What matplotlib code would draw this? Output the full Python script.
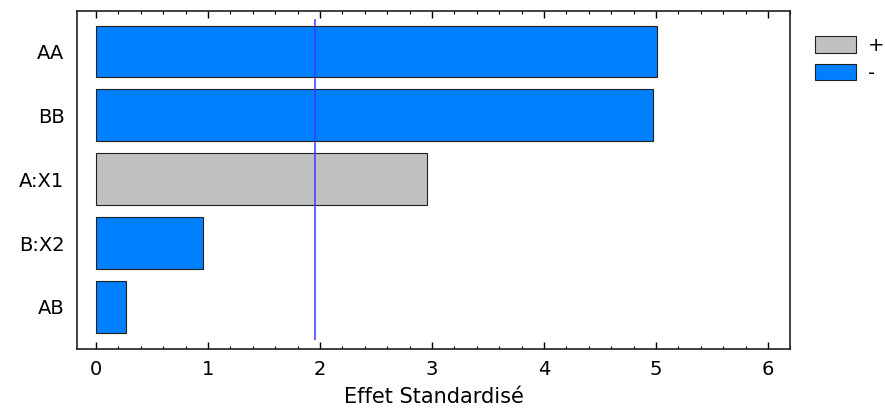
import matplotlib
matplotlib.use("Agg")
import matplotlib.pyplot as plt
from matplotlib.patches import Patch
from matplotlib.ticker import MultipleLocator

plt.rcParams['font.family'] = ['DejaVu Sans']

# effets standardisés (Pareto)
termes = ["AA", "BB", "A:X1", "B:X2", "AB"]
effets = [5.01, 4.97, 2.96, 0.955, 0.27]
signes = ["-", "-", "+", "-", "-"]
seuil = 1.955

couleurs = {"+": "#c0c0c0", "-": "#0080ff"}

fig = plt.figure(figsize=(8.85, 4.12), dpi=100)
ax = fig.add_axes([0.087, 0.153, 0.806, 0.820])

pos = list(range(len(termes)))[::-1]
ax.barh(pos, effets, height=0.8, color=[couleurs[s] for s in signes],
        edgecolor="#202020", linewidth=0.8)
ax.vlines(seuil, -0.52, 4.5, color="#3a3aff", linewidth=1.1)

ax.set_xlim(-0.17, 6.2)
ax.set_ylim(-0.656, 4.625)
ax.set_yticks(pos)
ax.set_yticklabels(termes, fontsize=14)
ax.xaxis.set_major_locator(MultipleLocator(1))
ax.xaxis.set_minor_locator(MultipleLocator(0.2))
ax.tick_params(axis="x", which="major", direction="in", length=5, width=1,
               top=True, labelsize=14, pad=8)
ax.tick_params(axis="x", which="minor", direction="in", length=2.5, width=0.8,
               top=True)
ax.tick_params(axis="y", length=0, pad=9)
for s in ax.spines.values():
    s.set_linewidth(1.2)
    s.set_color("#202020")
ax.set_xlabel("Effet Standardisé", fontsize=15, labelpad=6)

handles = [Patch(facecolor=couleurs["+"], edgecolor="#202020", linewidth=0.8, label="+"),
           Patch(facecolor=couleurs["-"], edgecolor="#202020", linewidth=0.8, label="-")]
fig.legend(handles=handles, loc="upper left", bbox_to_anchor=(0.921, 0.912),
           frameon=False, fontsize=14, handlelength=2.1, handleheight=0.9,
           handletextpad=0.6, labelspacing=0.45, borderaxespad=0, borderpad=0)

fig.savefig("out.png", dpi=100)
plt.close(fig)
